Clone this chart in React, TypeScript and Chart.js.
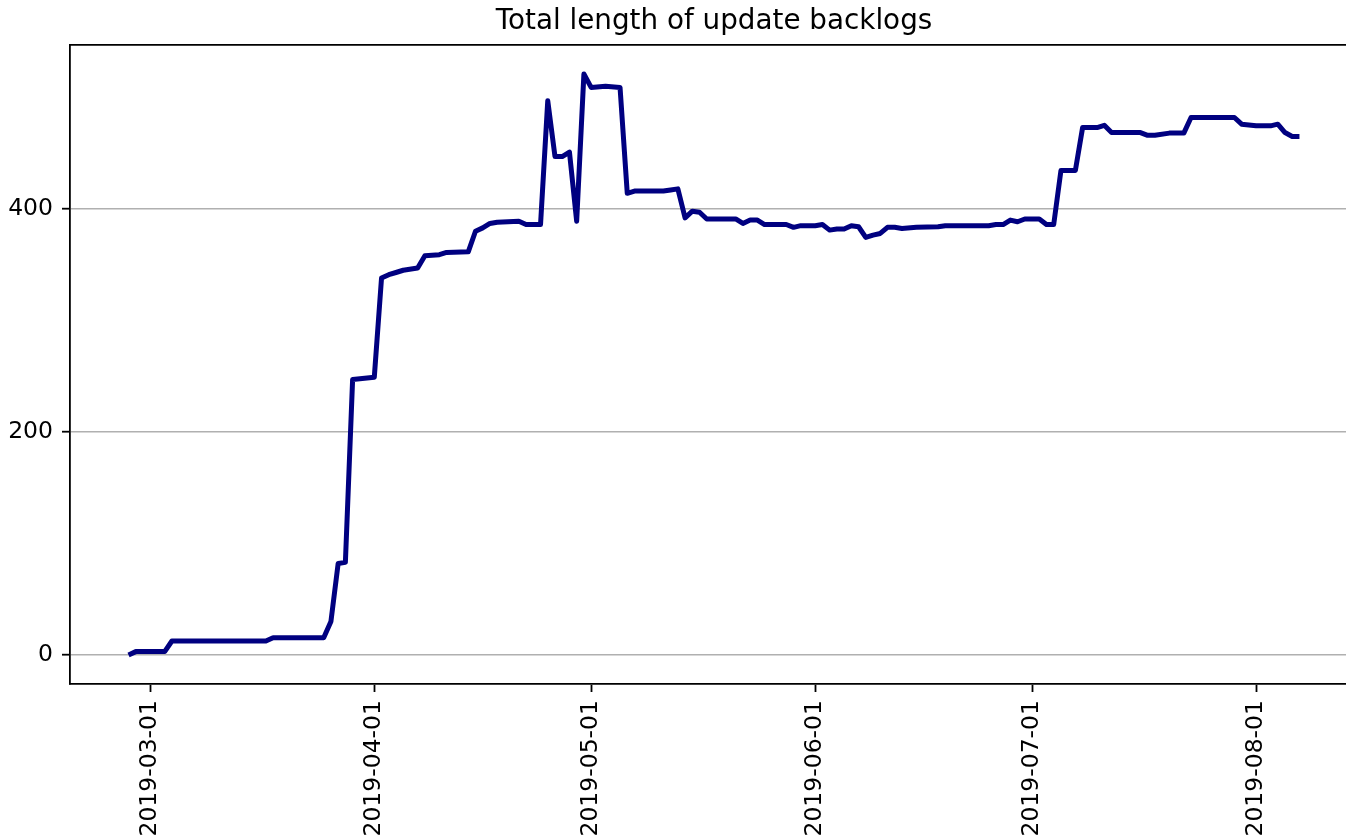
import React, { useEffect, useRef } from "react";
import { Chart, registerables } from "chart.js";

Chart.register(...registerables);

const TITLE = "Total length of update backlogs";

const dates = [
  "2019-02-26", "2019-02-27", "2019-03-03", "2019-03-04", "2019-03-17", "2019-03-18",
  "2019-03-25", "2019-03-26", "2019-03-27", "2019-03-28", "2019-03-29", "2019-04-01",
  "2019-04-02", "2019-04-03", "2019-04-04", "2019-04-05", "2019-04-07", "2019-04-08",
  "2019-04-10", "2019-04-11", "2019-04-14", "2019-04-15", "2019-04-16", "2019-04-17",
  "2019-04-18", "2019-04-21", "2019-04-22", "2019-04-24", "2019-04-25", "2019-04-26",
  "2019-04-27", "2019-04-28", "2019-04-29", "2019-04-30", "2019-05-01", "2019-05-03",
  "2019-05-05", "2019-05-06", "2019-05-07", "2019-05-11", "2019-05-12", "2019-05-13",
  "2019-05-14", "2019-05-15", "2019-05-16", "2019-05-17", "2019-05-21", "2019-05-22",
  "2019-05-23", "2019-05-24", "2019-05-25", "2019-05-28", "2019-05-29", "2019-05-30",
  "2019-06-01", "2019-06-02", "2019-06-03", "2019-06-04", "2019-06-05", "2019-06-06",
  "2019-06-07", "2019-06-08", "2019-06-09", "2019-06-10", "2019-06-11", "2019-06-12",
  "2019-06-13", "2019-06-15", "2019-06-18", "2019-06-19", "2019-06-25", "2019-06-26",
  "2019-06-27", "2019-06-28", "2019-06-29", "2019-06-30", "2019-07-02", "2019-07-03",
  "2019-07-04", "2019-07-05", "2019-07-07", "2019-07-08", "2019-07-10", "2019-07-11",
  "2019-07-12", "2019-07-16", "2019-07-17", "2019-07-18", "2019-07-20", "2019-07-22",
  "2019-07-23", "2019-07-29", "2019-07-30", "2019-08-01", "2019-08-03", "2019-08-04",
  "2019-08-05", "2019-08-06", "2019-08-07",
];

const backlog = [
  0, 3, 3, 12.5, 12.5, 15.5,
  15.5, 30, 82, 83, 247, 249,
  338, 341, 343, 345, 347, 358,
  359, 361, 361.5, 380, 383, 387,
  388, 389, 386, 386, 497, 447,
  447, 451, 389, 521, 509, 510,
  509, 414, 416, 416, 417, 418,
  392, 398, 397, 391, 391, 387,
  390, 390, 386, 386, 383.5, 385,
  385, 386, 381, 382, 382, 385,
  384, 374.5, 376.5, 378, 383.5, 383.5,
  382.5, 383.5, 384, 385, 385, 386,
  386, 390, 388.5, 391, 391, 386,
  386, 434.5, 434.5, 473, 473, 475,
  468.5, 468.5, 466, 466, 468, 468,
  482, 482, 476, 474.5, 474.5, 476,
  468.5, 465, 465,
];

const tickLabels = ["2019-03-01", "2019-04-01", "2019-05-01", "2019-06-01", "2019-07-01", "2019-08-01"];
const yTicks = [0, 200, 400];

const FONT = "'DejaVu Sans', sans-serif";
const DAY_MS = 86400000;
const ORIGIN = Date.UTC(2019, 2, 1);
const toDay = (s: string) => {
  const [y, m, d] = s.split("-").map(Number);
  return (Date.UTC(y, m - 1, d) - ORIGIN) / DAY_MS;
};

const framePlugin = {
  id: "topFrame",
  afterDraw(chart: any) {
    const { ctx, chartArea } = chart;
    ctx.save();
    ctx.strokeStyle = "#000";
    ctx.lineWidth = 1.8;
    ctx.beginPath();
    ctx.moveTo(chartArea.left, chartArea.top);
    ctx.lineTo(chartArea.right + 5, chartArea.top);
    ctx.stroke();
    ctx.restore();
  },
};

export default function App() {
  const ref = useRef<HTMLCanvasElement | null>(null);

  useEffect(() => {
    if (!ref.current) return;
    const xs = dates.map(toDay);
    const minX = Math.min(...xs);
    const maxX = Math.max(...xs);
    const padX = (maxX - minX) * 0.05;
    const minY = Math.min(...backlog);
    const maxY = Math.max(...backlog);
    const padY = (maxY - minY) * 0.05;

    const chart = new Chart(ref.current, {
      type: "line",
      data: {
        datasets: [
          {
            data: dates.map((d, i) => ({ x: toDay(d), y: backlog[i] })),
            borderColor: "#000080",
            borderWidth: 5,
            pointRadius: 0,
            tension: 0,
            fill: false,
            borderJoinStyle: "round",
          } as any,
        ],
      },
      options: {
        animation: false,
        responsive: false,
        devicePixelRatio: 1,
        layout: { padding: 0 },
        plugins: {
          legend: { display: false },
          tooltip: { enabled: false },
          title: {
            display: true,
            text: TITLE,
            fullSize: false,
            color: "#000",
            font: { family: FONT, size: 27.8, weight: "normal", lineHeight: 1.2 },
            padding: { top: 5, bottom: 6.6 },
          } as any,
        },
        scales: {
          x: {
            type: "linear",
            min: minX - padX,
            max: maxX + padX,
            afterBuildTicks: (scale: any) => {
              scale.ticks = tickLabels.map((l) => ({ value: toDay(l) }));
            },
            afterFit: (scale: any) => {
              scale.height = 154;
            },
            ticks: {
              autoSkip: false,
              minRotation: 90,
              maxRotation: 90,
              color: "#000",
              padding: 8,
              font: { family: FONT, size: 23.5 },
              callback: (_v: any, i: number) => tickLabels[i],
            },
            grid: {
              drawOnChartArea: false,
              drawTicks: true,
              tickLength: 8,
              tickColor: "#000",
              tickWidth: 1.8,
            },
            border: { display: true, color: "#000", width: 1.8 },
          },
          y: {
            type: "linear",
            min: minY - padY,
            max: maxY + padY,
            afterBuildTicks: (scale: any) => {
              scale.ticks = yTicks.map((v) => ({ value: v }));
            },
            afterFit: (scale: any) => {
              scale.width = 70;
            },
            ticks: {
              color: "#000",
              padding: 9,
              font: { family: FONT, size: 23.5 },
              callback: (v: any) => String(v),
            },
            grid: {
              drawOnChartArea: true,
              color: "#b0b0b0",
              lineWidth: 1.4,
              drawTicks: true,
              tickLength: 8,
              tickColor: "#000",
              tickWidth: 1.8,
            },
            border: { display: true, color: "#000", width: 1.8 },
          },
        },
      },
      plugins: [framePlugin],
    });
    return () => chart.destroy();
  }, []);

  return (
    <div
      style={{
        position: "absolute",
        left: 0,
        top: 0,
        width: 1346,
        height: 838,
        overflow: "hidden",
        background: "#fff",
      }}
    >
      <canvas ref={ref} width={1358} height={838} style={{ display: "block" }} />
    </div>
  );
}
